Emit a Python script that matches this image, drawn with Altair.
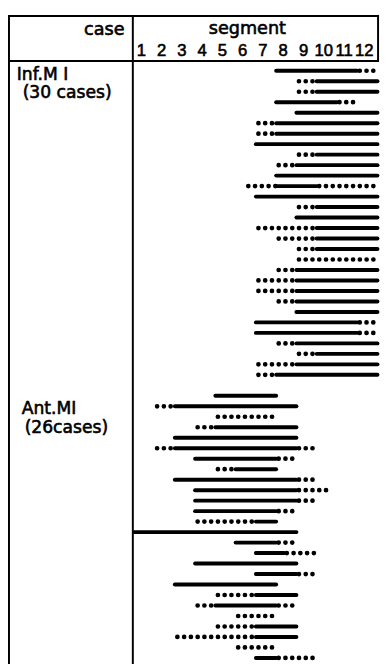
import altair as alt
import pandas as pd

# segment numbers shown in the header
segments = list(range(1, 13))

# each case: list of (style, from, to) in segment-boundary units (0..12); "s" solid, "d" dotted
inf_cases = [
    [("s", 7, 11), ("d", 11, 12)],
    [("d", 8, 9), ("s", 9, 12)],
    [("d", 8, 9), ("s", 9, 12)],
    [("s", 7, 10), ("d", 10, 11)],
    [("s", 8, 12)],
    [("d", 6, 7), ("s", 7, 12)],
    [("d", 6, 7), ("s", 7, 12)],
    [("s", 6, 12)],
    [("d", 8, 9), ("s", 9, 12)],
    [("d", 7, 8), ("s", 8, 12)],
    [("s", 7, 12)],
    [("d", 5.5, 7), ("s", 7, 9), ("d", 9, 12)],
    [("s", 6, 12)],
    [("d", 8, 9), ("s", 9, 12)],
    [("s", 8, 12)],
    [("d", 6, 9), ("s", 9, 12)],
    [("d", 7, 9), ("s", 9, 12)],
    [("d", 8, 9), ("s", 9, 12)],
    [("d", 8, 12)],
    [("d", 7, 8), ("s", 8, 12)],
    [("d", 6, 8), ("s", 8, 12)],
    [("d", 6, 8), ("s", 8, 12)],
    [("d", 7, 8), ("s", 8, 12)],
    [("s", 8, 12)],
    [("s", 6, 11), ("d", 11, 12)],
    [("s", 6, 11), ("d", 11, 12)],
    [("d", 7, 8), ("s", 8, 12)],
    [("d", 8, 9), ("s", 9, 12)],
    [("d", 6, 8), ("s", 8, 12)],
    [("d", 6, 7), ("s", 7, 12)],
]

ant_cases = [
    [("s", 4, 7)],
    [("d", 1, 2), ("s", 2, 8)],
    [("d", 4, 7)],
    [("d", 3, 4), ("s", 4, 8)],
    [("s", 2, 8)],
    [("d", 1, 2), ("s", 2, 8), ("d", 8, 9)],
    [("s", 3, 7), ("d", 7, 8)],
    [("d", 4, 5), ("s", 5, 7)],
    [("s", 2, 8), ("d", 8, 9)],
    [("s", 3, 8), ("d", 8, 9.75)],
    [("s", 3, 8), ("d", 8, 9)],
    [("s", 3, 7), ("d", 7, 8)],
    [("d", 3, 6), ("s", 6, 7)],
    [("s", 0, 8)],
    [("s", 5, 7), ("d", 7, 8)],
    [("s", 6, 7.4), ("d", 7.4, 9)],
    [("s", 3, 8)],
    [("s", 6, 8), ("d", 8, 9)],
    [("s", 2, 7)],
    [("d", 4, 6), ("s", 6, 8)],
    [("d", 3, 4), ("s", 4, 7), ("d", 7, 8)],
    [("d", 5, 7)],
    [("d", 4, 6), ("s", 6, 8)],
    [("d", 2, 6), ("s", 6, 8)],
    [("d", 5, 7)],
    [("s", 6, 7), ("d", 7, 9)],
]

rows = []
for i, case in enumerate(inf_cases):
    for style, a, b in case:
        rows.append({"group": "Inf.MI", "row": i, "style": style, "start": a, "end": b})
offset = len(inf_cases) + 1
for j, case in enumerate(ant_cases):
    for style, a, b in case:
        rows.append({"group": "Ant.MI", "row": offset + j, "style": style, "start": a, "end": b})
df = pd.DataFrame(rows)
ticks = pd.DataFrame({"seg": segments, "label": [str(s) for s in segments]})

W, H = 381, 663
xs = alt.Scale(domain=[-6.2319, 12.1739], nice=False, zero=False)
ys = alt.Scale(domain=[-5.3221, 56.5826], nice=False, zero=False, reverse=True)

base = alt.Chart(df)
solid = base.transform_filter(alt.datum.style == "s").mark_rule(
    strokeWidth=4, strokeCap="round", color="black"
).encode(
    x=alt.X("start:Q", scale=xs, axis=None),
    x2="end:Q",
    y=alt.Y("row:Q", scale=ys, axis=None),
)
dotted = base.transform_filter(alt.datum.style == "d").mark_rule(
    strokeWidth=4.8, strokeCap="round", color="black",
    strokeDash=[0.01, 6.9], strokeDashOffset=-2.6
).encode(
    x=alt.X("start:Q", scale=xs, axis=None),
    x2="end:Q",
    y=alt.Y("row:Q", scale=ys, axis=None),
)

tick_text = alt.Chart(ticks).transform_calculate(pos="datum.seg - 0.65").mark_text(
    align="center", baseline="alphabetic", fontSize=17, font="Liberation Sans",
    color="black", stroke="black", strokeWidth=0.6
).encode(
    x=alt.X("pos:Q", scale=xs, axis=None),
    y=alt.value(42),
    text="label:N",
)


def txt(s, x, y, size, align="left", font="DejaVu Sans"):
    return alt.Chart(pd.DataFrame({"t": [s]})).mark_text(
        align=align, baseline="alphabetic", fontSize=size, font=font,
        color="black", stroke="black", strokeWidth=0.6
    ).encode(x=alt.value(x), y=alt.value(y), text="t:N")


def rule(x1, x2, y1, y2, w=2):
    return alt.Chart(pd.DataFrame({"a": [0]})).mark_rule(strokeWidth=w, color="black").encode(
        x=alt.value(x1), x2=alt.value(x2), y=alt.value(y1), y2=alt.value(y2)
    )


borders = [
    rule(0, 378, 1, 1),          # top
    rule(1, 1, 0, H),            # left
    rule(378, 378, 0, 48),       # right (header)
    rule(127.5, 127.5, 0, H),    # divider
    rule(0, 378, 47, 47),        # header line
]

texts = [
    txt("case", 119, 20, 18, align="right"),
    txt("segment", 244.5, 19, 18, align="center"),
    txt("Inf.M I", 9, 66, 17.5),
    txt("(30 cases)", 15, 85, 17.5),
    txt("Ant.MI", 14, 408, 17.5),
    txt("(26cases)", 17, 427, 17.5),
]

chart = alt.layer(solid, dotted, tick_text, *borders, *texts).properties(
    width=W, height=H, padding=0, autosize=alt.AutoSizeParams(type="none")
).configure_view(stroke=None)

chart.save("out.html", embed_options={"renderer": "svg", "actions": False})
